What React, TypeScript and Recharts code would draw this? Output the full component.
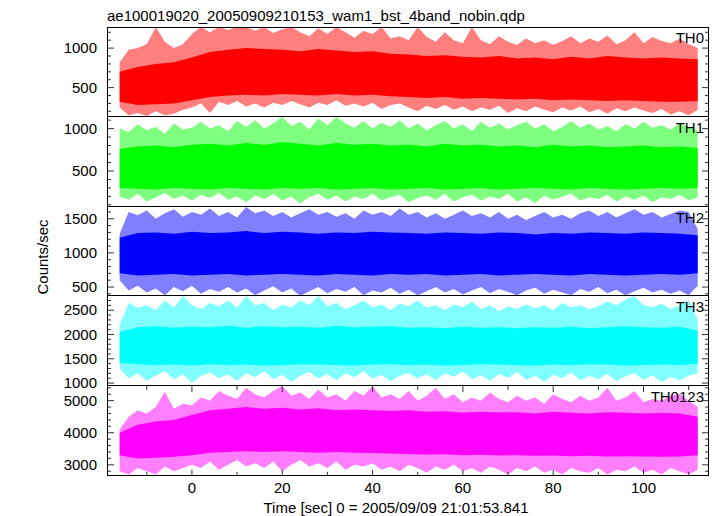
import React from 'react';
import { ComposedChart, Area, XAxis, YAxis } from 'recharts';

// sample grids (sec): envelope every 2 s, dense core every 4 s
const times = [
  -16, -14, -12, -10, -8, -6, -4, -2, 0, 2, 4, 6, 8, 10, 12, 14, 16, 18, 20, 22, 24, 26, 28, 30, 32, 34,
  36, 38, 40, 42, 44, 46, 48, 50, 52, 54, 56, 58, 60, 62, 64, 66, 68, 70, 72, 74, 76, 78, 80, 82, 84, 86,
  88, 90, 92, 94, 96, 98, 100, 102, 104, 106, 108, 110, 112,
];
const coreTimes = [
  -16, -12, -8, -4, 0, 4, 8, 12, 16, 20, 24, 28, 32, 36, 40, 44, 48, 52, 56, 60, 64, 68, 72, 76, 80, 84,
  88, 92, 96, 100, 104, 108, 112,
];

// TH0
const th0Hi = [
  820, 980, 1000, 1050, 1267, 1080, 1000, 1050, 1180, 1267,
  1200, 1267, 1230, 1267, 1267, 1220, 1267, 1190, 1240, 1267,
  1200, 1150, 1250, 1180, 1267, 1200, 1130, 1220, 1180, 1267,
  1120, 1150, 1100, 1267, 1140, 1080, 1200, 1100, 1060, 1267,
  1100, 1050, 1150, 1080, 1040, 1120, 1060, 1100, 1040, 1090,
  1150, 1060, 1120, 1080, 1160, 1050, 1100, 1200, 1060, 1140,
  1090, 1060, 1120, 1050, 1000,
];
const th0Lo = [
  250, 150, 180, 140, 200, 150, 170, 220, 250, 300,
  180, 320, 280, 330, 260, 300, 250, 310, 280, 330,
  290, 250, 310, 280, 340, 270, 300, 260, 310, 230,
  280, 300, 250, 200, 270, 230, 280, 220, 260, 200,
  250, 220, 270, 180, 240, 200, 260, 220, 190, 250,
  210, 260, 190, 230, 170, 240, 200, 250, 210, 180,
  230, 160, 200, 150, 220,
];
const th0Top = [
  700, 760, 800, 820, 880, 950, 980, 1000, 990, 980, 960, 990, 970, 950, 960, 930, 920,
  900, 910, 890, 880, 900, 870, 880, 860, 890, 870, 900, 880, 870, 880, 870, 860,
];
const th0Bot = [
  320, 280, 290, 300, 340, 380, 400, 410, 400, 420, 410, 400, 420, 400, 410, 390, 380,
  370, 380, 360, 370, 360, 350, 360, 340, 350, 340, 330, 340, 330, 320, 320, 330,
];

// TH1
const th1Hi = [
  1000, 960, 1050, 980, 1020, 940, 1060, 990, 1010, 1080,
  1000, 1040, 970, 1090, 1020, 1100, 1000, 1060, 1137, 1030,
  1080, 990, 1120, 1040, 1137, 1060, 1010, 1090, 1000, 1070,
  1020, 1100, 1000, 1060, 980, 1040, 1090, 1000, 1050, 970,
  1080, 1010, 1060, 990, 1040, 1080, 1000, 1050, 970, 1020,
  1090, 1010, 1060, 990, 1030, 970, 1050, 1000, 1080, 1010,
  1040, 990, 1060, 1020, 980,
];
const th1Lo = [
  200, 160, 230, 140, 190, 240, 170, 210, 150, 220,
  180, 240, 160, 200, 130, 210, 170, 230, 150, 200,
  120, 190, 230, 160, 210, 140, 200, 170, 230, 150,
  190, 220, 130, 180, 210, 160, 230, 140, 190, 220,
  150, 200, 170, 230, 140, 190, 120, 210, 160, 200,
  230, 150, 190, 170, 220, 140, 200, 160, 210, 130,
  190, 170, 220, 150, 190,
];
const th1Top = [
  760, 790, 800, 780, 810, 820, 800, 830, 810, 840, 820, 800, 830, 810, 820, 800, 810,
  790, 820, 800, 810, 790, 800, 780, 810, 790, 800, 780, 790, 800, 780, 790, 770,
];
const th1Bot = [
  300, 290, 280, 300, 290, 280, 300, 290, 280, 300, 290, 300, 280, 290, 300, 280, 290,
  300, 280, 290, 300, 280, 290, 300, 290, 280, 300, 290, 280, 290, 300, 290, 300,
];

// TH2
const th2Hi = [
  1280, 1600, 1550, 1620, 1500, 1580, 1640, 1530, 1600, 1560,
  1650, 1540, 1600, 1520, 1672, 1580, 1620, 1540, 1600, 1520,
  1580, 1640, 1560, 1600, 1530, 1580, 1500, 1620, 1560, 1600,
  1540, 1650, 1560, 1600, 1520, 1580, 1500, 1560, 1620, 1540,
  1580, 1520, 1600, 1500, 1560, 1480, 1540, 1600, 1520, 1560,
  1500, 1580, 1620, 1540, 1600, 1520, 1580, 1640, 1560, 1600,
  1520, 1570, 1620, 1600, 1350,
];
const th2Lo = [
  600, 450, 520, 420, 480, 380, 500, 440, 520, 400,
  470, 430, 500, 420, 480, 380, 450, 510, 420, 480,
  370, 440, 500, 410, 470, 430, 500, 380, 450, 420,
  490, 400, 460, 380, 440, 500, 420, 470, 390, 450,
  500, 410, 470, 430, 380, 450, 490, 400, 460, 420,
  380, 470, 430, 500, 410, 460, 380, 440, 490, 420,
  460, 400, 450, 380, 520,
];
const th2Top = [
  1220, 1290, 1300, 1280, 1310, 1290, 1300, 1320, 1290, 1310, 1300, 1280, 1300, 1290, 1310, 1300, 1290,
  1280, 1300, 1290, 1280, 1300, 1290, 1270, 1290, 1280, 1300, 1290, 1280, 1300, 1290, 1280, 1260,
];
const th2Bot = [
  700, 670, 680, 690, 670, 680, 690, 670, 680, 690, 680, 670, 690, 680, 670, 690, 680,
  690, 670, 680, 690, 670, 680, 690, 680, 670, 690, 680, 670, 680, 690, 680, 700,
];

// TH3
const th3Hi = [
  2200, 2650, 2550, 2600, 2500, 2700, 2550, 2793, 2600, 2520,
  2650, 2580, 2700, 2550, 2793, 2600, 2650, 2500, 2620, 2550,
  2700, 2600, 2793, 2580, 2650, 2520, 2600, 2700, 2560, 2620,
  2500, 2640, 2580, 2700, 2550, 2600, 2500, 2620, 2560, 2680,
  2520, 2600, 2480, 2580, 2520, 2620, 2540, 2600, 2500, 2650,
  2560, 2600, 2520, 2580, 2680, 2600, 2720, 2793, 2600, 2560,
  2640, 2520, 2600, 2700, 2300,
];
const th3Lo = [
  1300, 1100, 1200, 1050, 1150, 1250, 1080, 1180, 1000, 1150,
  1220, 1100, 1180, 1050, 1200, 1120, 1250, 1080, 1170, 1020,
  1150, 1230, 1100, 1180, 1060, 1200, 1120, 1250, 1090, 1170,
  1040, 1150, 1210, 1100, 1180, 1060, 1200, 1130, 1240, 1080,
  1160, 1050, 1190, 1110, 1230, 1070, 1150, 1020, 1170, 1100,
  1220, 1060, 1150, 1080, 1190, 1040, 1140, 1210, 1070, 1160,
  1020, 1130, 1060, 1150, 1200,
];
const th3Top = [
  2050, 2150, 2170, 2140, 2160, 2150, 2180, 2140, 2170, 2150, 2160, 2140, 2180, 2150, 2160, 2170, 2140,
  2150, 2130, 2160, 2140, 2150, 2130, 2150, 2140, 2160, 2130, 2150, 2170, 2150, 2140, 2160, 2080,
];
const th3Bot = [
  1420, 1390, 1370, 1380, 1360, 1390, 1370, 1380, 1360, 1370, 1390, 1380, 1370, 1360, 1380, 1390, 1370,
  1380, 1360, 1370, 1390, 1380, 1370, 1360, 1380, 1370, 1390, 1380, 1360, 1370, 1380, 1370, 1400,
];

// TH0123
const th0123Hi = [
  4100, 4500, 4700, 4600, 4800, 5280, 4750, 4900, 4850, 5100,
  5000, 5300, 5150, 5050, 5400, 5200, 5100, 5300, 5456, 5150,
  5250, 5050, 5350, 5100, 5200, 5000, 5300, 5150, 5456, 5100,
  5200, 5050, 5300, 5000, 5150, 5400, 5050, 5200, 4950, 5100,
  5000, 5250, 5050, 4950, 5150, 5000, 5100, 4900, 5200, 5050,
  4950, 5150, 5000, 5100, 5400, 5000, 5100, 5300, 4950, 5050,
  5000, 5150, 5200, 5000, 4800,
];
const th0123Lo = [
  2800, 2700, 2900, 2800, 2700, 2950, 2800, 2900, 3000, 2900,
  3100, 2850, 3000, 3150, 2950, 3050, 2900, 3100, 2800, 3000,
  3150, 2950, 3050, 2900, 3100, 2850, 3000, 2950, 3050, 2850,
  2950, 2800, 3000, 2900, 2750, 2950, 2850, 3000, 2800, 2900,
  2750, 2950, 2850, 2700, 2900, 2800, 2950, 2750, 2850, 2700,
  2900, 2800, 2750, 2900, 2700, 2850, 2800, 2950, 2750, 2850,
  2700, 2900, 2800, 2700, 2850,
];
const th0123Top = [
  4000, 4250, 4350, 4400, 4550, 4700, 4750, 4800, 4750, 4780, 4720, 4760, 4700, 4720, 4700, 4680, 4700,
  4650, 4670, 4620, 4650, 4630, 4640, 4600, 4650, 4620, 4600, 4640, 4620, 4600, 4620, 4600, 4500,
];
const th0123Bot = [
  3300, 3200, 3220, 3250, 3300, 3380, 3400, 3420, 3400, 3420, 3400, 3380, 3400, 3380, 3370, 3350, 3340,
  3320, 3330, 3300, 3310, 3290, 3300, 3280, 3290, 3270, 3280, 3260, 3270, 3260, 3250, 3260, 3300,
];

// axes
const xDomain = [-18.8, 114.5];
const xTicks = [-10, 0, 10, 20, 30, 40, 50, 60, 70, 80, 90, 100, 110];
const xLabelTicks = [0, 20, 40, 60, 80, 100];

const th0Domain = [131, 1267];
const th1Domain = [77, 1137];
const th2Domain = [357, 1672];
const th3Domain = [944, 2793];
const th0123Domain = [2658, 5456];

const th0Ticks = [200, 300, 400, 500, 600, 700, 800, 900, 1000, 1100, 1200];
const th1Ticks = [100, 200, 300, 400, 500, 600, 700, 800, 900, 1000, 1100];
const th2Ticks = [400, 500, 600, 700, 800, 900, 1000, 1100, 1200, 1300, 1400, 1500, 1600];
const th3Ticks = [
  1000, 1100, 1200, 1300, 1400, 1500, 1600, 1700, 1800, 1900, 2000, 2100, 2200, 2300, 2400, 2500, 2600, 2700,
];
const th0123Ticks = [2800, 3000, 3200, 3400, 3600, 3800, 4000, 4200, 4400, 4600, 4800, 5000, 5200, 5400];

const th0Labels = [500, 1000];
const th1Labels = [500, 1000];
const th2Labels = [500, 1000, 1500];
const th3Labels = [1000, 1500, 2000, 2500];
const th0123Labels = [3000, 4000, 5000];

const panels = [
  { name: 'TH0', color: '#ff0000', hi: th0Hi, lo: th0Lo, top: th0Top, bot: th0Bot, domain: th0Domain, ticks: th0Ticks, labels: th0Labels },
  { name: 'TH1', color: '#00ff00', hi: th1Hi, lo: th1Lo, top: th1Top, bot: th1Bot, domain: th1Domain, ticks: th1Ticks, labels: th1Labels },
  { name: 'TH2', color: '#0000ff', hi: th2Hi, lo: th2Lo, top: th2Top, bot: th2Bot, domain: th2Domain, ticks: th2Ticks, labels: th2Labels },
  { name: 'TH3', color: '#00ffff', hi: th3Hi, lo: th3Lo, top: th3Top, bot: th3Bot, domain: th3Domain, ticks: th3Ticks, labels: th3Labels },
  { name: 'TH0123', color: '#ff00ff', hi: th0123Hi, lo: th0123Lo, top: th0123Top, bot: th0123Bot, domain: th0123Domain, ticks: th0123Ticks, labels: th0123Labels },
];

const W = 717;
const PLOT_LEFT = 107;
const PLOT_RIGHT = 709;
const FIRST_TOP = 27;
const PANEL_H = 89.8;
const FONT = '"Liberation Sans", Arial, Helvetica, sans-serif';
const TICK_COLOR = '#333';

const makeYTick = (labels: number[]) => (props: any) => {
  const { y, payload } = props;
  const major = labels.includes(payload.value);
  const len = major ? 7 : 4;
  return (
    <g>
      <line x1={PLOT_LEFT} x2={PLOT_LEFT + len} y1={y} y2={y} stroke={TICK_COLOR} />
      <line x1={PLOT_RIGHT - len} x2={PLOT_RIGHT} y1={y} y2={y} stroke={TICK_COLOR} />
      {major && (
        <text x={PLOT_LEFT - 10} y={y} dy={5} textAnchor="end" fontSize={15} fontFamily={FONT} fill="#000">
          {payload.value}
        </text>
      )}
    </g>
  );
};

const makeXTick = (showLabels: boolean) => (props: any) => {
  const { x, payload } = props;
  const major = xLabelTicks.includes(payload.value);
  const len = major ? 6 : 4;
  return (
    <g>
      <line x1={x} x2={x} y1={0} y2={len} stroke={TICK_COLOR} />
      <line x1={x} x2={x} y1={PANEL_H - len} y2={PANEL_H} stroke={TICK_COLOR} />
      {showLabels && major && (
        <text x={x} y={PANEL_H + 17} textAnchor="middle" fontSize={15} fontFamily={FONT} fill="#000">
          {payload.value}
        </text>
      )}
    </g>
  );
};

const Panel = ({ p, index }: { p: (typeof panels)[number]; index: number }) => {
  const last = index === panels.length - 1;
  const top = FIRST_TOP + index * PANEL_H;
  const envData = times.map((t, i) => ({ t, env: [p.lo[i], p.hi[i]] }));
  const coreData = coreTimes.map((t, i) => ({ t, core: [p.bot[i], p.top[i]] }));
  const h = last ? PANEL_H + 30 : PANEL_H;

  return (
    <>
      <div style={{ position: 'absolute', left: 0, top }}>
        <ComposedChart width={W} height={h} data={envData} margin={{ top: 0, right: W - PLOT_RIGHT, bottom: 0, left: PLOT_LEFT - 60 }}>
          <XAxis
            dataKey="t"
            type="number"
            domain={xDomain}
            ticks={xTicks}
            interval={0}
            allowDataOverflow
            axisLine={false}
            tickLine={false}
            height={last ? 30 : 0}
            tick={makeXTick(last)}
          />
          <YAxis
            type="number"
            domain={p.domain}
            ticks={p.ticks}
            interval={0}
            allowDataOverflow
            axisLine={false}
            tickLine={false}
            width={60}
            tick={makeYTick(p.labels)}
          />
          <Area
            type="linear"
            dataKey="env"
            stroke="none"
            fill={p.color}
            fillOpacity={0.5}
            dot={false}
            activeDot={false}
            isAnimationActive={false}
          />
        </ComposedChart>
      </div>
      <div style={{ position: 'absolute', left: 0, top }}>
        <ComposedChart width={W} height={PANEL_H} data={coreData} margin={{ top: 0, right: W - PLOT_RIGHT, bottom: 0, left: PLOT_LEFT }}>
          <XAxis dataKey="t" type="number" domain={xDomain} allowDataOverflow hide />
          <YAxis type="number" domain={p.domain} allowDataOverflow hide />
          <Area
            type="linear"
            dataKey="core"
            stroke="none"
            fill={p.color}
            fillOpacity={1}
            dot={false}
            activeDot={false}
            isAnimationActive={false}
          />
        </ComposedChart>
      </div>
      <div
        style={{
          position: 'absolute',
          left: PLOT_LEFT,
          top,
          width: PLOT_RIGHT - PLOT_LEFT,
          height: PANEL_H,
          boxSizing: 'border-box',
          border: '1px solid #000',
          borderTop: index === 0 ? '1px solid #000' : 'none',
          pointerEvents: 'none',
        }}
      />
      <div style={{ position: 'absolute', right: W - 704, top: top + 3, fontSize: 15, lineHeight: '15px', color: '#000' }}>
        {p.name}
      </div>
    </>
  );
};

const App = () => (
  <div style={{ position: 'absolute', left: 0, top: 0, width: W, height: 516, background: '#fff', fontFamily: FONT, overflow: 'hidden' }}>
    <style>{'.recharts-surface { overflow: visible; }'}</style>
    <div style={{ position: 'absolute', left: PLOT_LEFT, top: 8, fontSize: 15, lineHeight: '15px', color: '#000', whiteSpace: 'nowrap' }}>
      ae100019020_20050909210153_wam1_bst_4band_nobin.qdp
    </div>
    {panels.map((p, i) => (
      <Panel key={p.name} p={p} index={i} />
    ))}
    <div
      style={{
        position: 'absolute',
        left: 42,
        top: 257,
        transform: 'translate(-50%, -50%) rotate(-90deg)',
        fontSize: 15,
        lineHeight: '15px',
        whiteSpace: 'nowrap',
        color: '#000',
      }}
    >
      Counts/sec
    </div>
    <div
      style={{
        position: 'absolute',
        left: 396,
        top: 507,
        transform: 'translate(-50%, -50%)',
        fontSize: 15,
        lineHeight: '15px',
        whiteSpace: 'nowrap',
        color: '#000',
      }}
    >
      Time [sec] 0 = 2005/09/09 21:01:53.841
    </div>
  </div>
);

export default App;
